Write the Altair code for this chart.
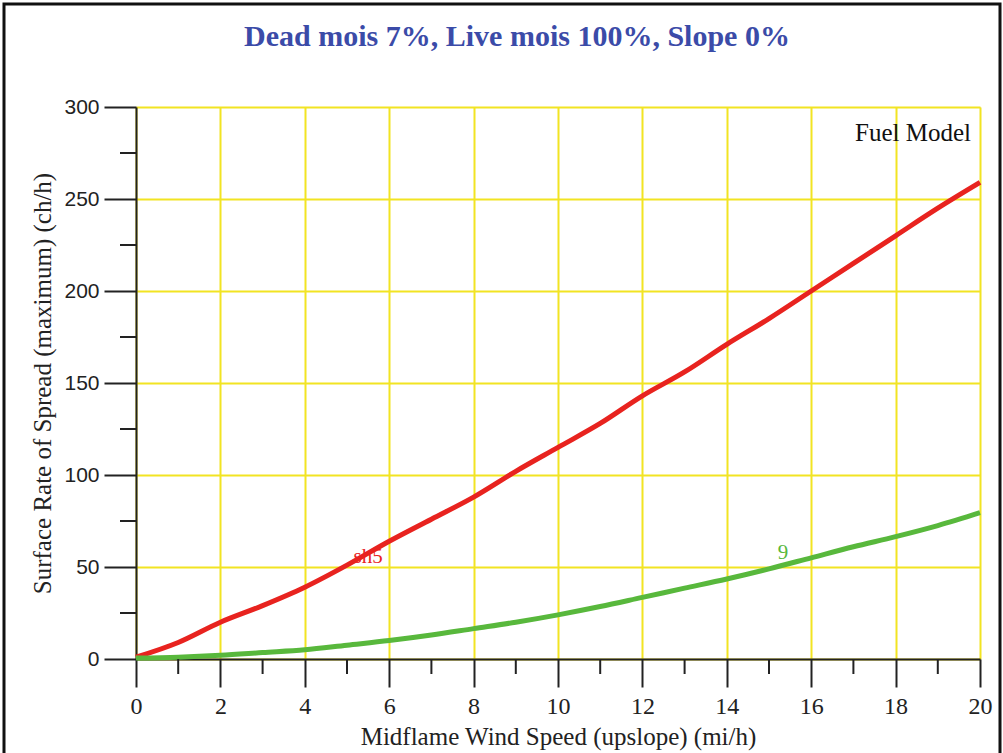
import altair as alt
import pandas as pd

# ---- data ----
wind = list(range(21))
sh5 = [1, 9, 20, 29, 39, 51, 64, 76, 88, 102, 115, 128, 143, 156, 171, 185, 200, 215, 230, 245, 259]
fm9 = [0.5, 1, 2, 3.5, 5, 7.5, 10, 13, 16.5, 20, 24, 28.5, 33.5, 38.5, 43.5, 49, 55, 61, 66.5, 72.5, 79.5]
models = ["sh5", "9"]
model_colors = ["#e8231f", "#58b83c"]
label_x = [5.5, 15.33]
label_y = [55.2, 57.4]
x_major = list(range(0, 21, 2))
x_minor = list(range(1, 20, 2))
y_major = list(range(0, 301, 50))
y_minor = list(range(25, 300, 50))
title_text = "Dead mois 7%, Live mois 100%, Slope 0%"
legend_title = "Fuel Model"

W, H = 844, 552

df = pd.DataFrame({
    "wind": wind * 2,
    "ros": sh5 + fm9,
    "model": [models[0]] * len(wind) + [models[1]] * len(wind),
})
lab = pd.DataFrame({"wind": label_x, "ros": label_y, "model": models})

xs = alt.Scale(domain=[0, 20], nice=False, zero=False)
ys = alt.Scale(domain=[0, 300], nice=False, zero=False)
cs = alt.Scale(domain=models, range=model_colors)

serif = "Liberation Serif"
grid_col = "#f2e422"
axis_col = "#222222"

x_axis = alt.Axis(
    values=x_major, tickSize=28, tickColor=axis_col, tickWidth=2,
    domainColor=axis_col, domainWidth=2,
    grid=True, gridColor=grid_col, gridWidth=2, gridOpacity=1,
    labelFont=serif, labelFontSize=24, labelColor="#222", labelPadding=7,
    labelFlush=False,
    title="Midflame Wind Speed (upslope) (mi/h)", titleFont=serif,
    titleFontSize=25, titleFontWeight="normal", titleColor="#222", titlePadding=6,
)
y_axis = alt.Axis(
    values=y_major, tickSize=32, tickColor=axis_col, tickWidth=2,
    domainColor=axis_col, domainWidth=2,
    grid=True, gridColor=grid_col, gridWidth=2, gridOpacity=1,
    labelFont="Liberation Sans", labelFontSize=21, labelColor="#222", labelPadding=5,
    labelFlush=False,
    title="Surface Rate of Spread (maximum) (ch/h)", titleFont=serif,
    titleFontSize=25, titleFontWeight="normal", titleColor="#222", titlePadding=8,
)

base = alt.Chart(df)

lines = base.mark_line(strokeWidth=5, interpolate="monotone").encode(
    x=alt.X("wind:Q", scale=xs, axis=x_axis),
    y=alt.Y("ros:Q", scale=ys, axis=y_axis),
    color=alt.Color("model:N", scale=cs, legend=None),
    detail="model:N",
)

labels = alt.Chart(lab).mark_text(font=serif, fontSize=21, align="center", baseline="middle").encode(
    x=alt.X("wind:Q", scale=xs),
    y=alt.Y("ros:Q", scale=ys),
    text="model:N",
    color=alt.Color("model:N", scale=cs, legend=None),
)

xminor = alt.Chart(pd.DataFrame({"v": x_minor})).mark_rule(color=axis_col, strokeWidth=2).encode(
    x=alt.X("v:Q", scale=xs),
    y=alt.value(H), y2=alt.value(H + 15),
)
yminor = alt.Chart(pd.DataFrame({"v": y_minor})).mark_rule(color=axis_col, strokeWidth=2).encode(
    y=alt.Y("v:Q", scale=ys),
    x=alt.value(0), x2=alt.value(-16),
)

fuel = alt.Chart(pd.DataFrame({"t": [legend_title]})).mark_text(
    font=serif, fontSize=25, align="right", baseline="middle", color="#111"
).encode(text="t:N", x=alt.value(W - 9), y=alt.value(26))

title = alt.Chart(pd.DataFrame({"t": [title_text]})).mark_text(
    font=serif, fontSize=30, fontWeight="bold", align="center", baseline="middle",
    color="#3b4ba8"
).encode(text="t:N", x=alt.value(517 - 136), y=alt.value(37 - 107))

border = alt.Chart(pd.DataFrame({"a": [0]})).mark_rect(
    filled=False, stroke="#111", strokeWidth=3
).encode(x=alt.value(-132), x2=alt.value(864), y=alt.value(-103), y2=alt.value(720))

chart = alt.layer(lines, labels, xminor, yminor, fuel, title, border).properties(
    width=W, height=H,
    padding={"left": 136, "top": 107, "right": 23, "bottom": 94},
    autosize=alt.AutoSizeParams(type="none"),
).configure_view(stroke="#333", strokeWidth=2).configure(background="white")

chart.save("out.html", embed_options={"renderer": "svg", "actions": False})
